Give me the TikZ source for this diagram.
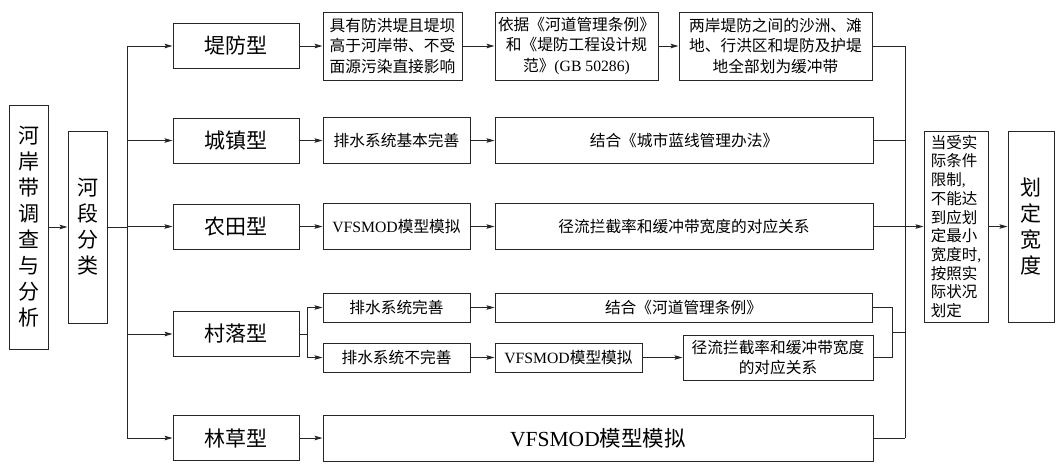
\documentclass[tikz,border=0pt]{standalone}
\usepackage{fontspec}
\setmainfont{Noto Sans CJK SC}
\newfontfamily\lat{Liberation Serif}
\usetikzlibrary{arrows.meta}
\begin{document}
\begin{tikzpicture}[x=1pt,y=-1pt,
  bx/.style={draw=black!85, line width=1pt, inner sep=0pt, align=center, font=\fontsize{15.7}{20.5}\selectfont},
  tp/.style={bx, minimum width=126pt, minimum height=45pt, font=\fontsize{21}{24}\selectfont},
  vt/.style={bx, minimum width=39pt, font=\fontsize{21}{26}\selectfont},
  arr/.style={line width=0.9pt, draw=black!85, -{Stealth[length=8pt,width=4.5pt,inset=1.5pt]}},
  ln/.style={line width=0.9pt, draw=black!85}]
\useasboundingbox (0,0) rectangle (1056,472);

% left column
\node[vt, minimum height=244pt] (A) at (28.5,227) {河\\岸\\带\\调\\查\\与\\分\\析};
\node[vt, minimum height=192pt] (B) at (87.5,227) {河\\段\\分\\类};

% type boxes
\node[tp] (T1) at (236,46) {堤防型};
\node[tp] (T2) at (236,140.5) {城镇型};
\node[tp] (T3) at (236,226.5) {农田型};
\node[tp] (T4) at (236,334) {村落型};
\node[tp] (T5) at (236,438) {林草型};

% row 1
\node[bx, minimum width=139pt, minimum height=68pt] (C1a) at (392.5,46) {具有防洪堤且堤坝\\高于河岸带、不受\\面源污染直接影响};
\node[bx, minimum width=163pt, minimum height=68pt] (C1b) at (576.5,46) {依据《河道管理条例》\\和《堤防工程设计规\\范》{\lat(GB 50286)}};
\node[bx, minimum width=193pt, minimum height=68pt] (C1c) at (775.5,46) {两岸堤防之间的沙洲、滩\\地、行洪区和堤防及护堤\\地全部划为缓冲带};

% row 2
\node[bx, minimum width=147pt, minimum height=46pt] (C2a) at (396.5,140.5) {排水系统基本完善};
\node[bx, minimum width=378pt, minimum height=46pt] (C2b) at (684,140.5) {结合《城市蓝线管理办法》};

% row 3
\node[bx, minimum width=147pt, minimum height=46pt] (C3a) at (396.5,226.5) {{\lat VFSMOD}模型模拟};
\node[bx, minimum width=378pt, minimum height=46pt] (C3b) at (684,226.5) {径流拦截率和缓冲带宽度的对应关系};

% row 4
\node[bx, minimum width=147pt, minimum height=29pt] (C4a) at (396.5,307.5) {排水系统完善};
\node[bx, minimum width=147pt, minimum height=29pt] (C4b) at (396.5,357.5) {排水系统不完善};
\node[bx, minimum width=377pt, minimum height=29pt] (C4c) at (683.5,307.5) {结合《河道管理条例》};
\node[bx, minimum width=147pt, minimum height=29pt] (C4d) at (568.5,357.5) {{\lat VFSMOD}模型模拟};
\node[bx, minimum width=190pt, minimum height=45pt] (C4e) at (778,357.5) {径流拦截率和缓冲带宽度\\的对应关系};

% row 5
\node[bx, minimum width=550pt, minimum height=46pt, font=\fontsize{21.5}{24}\selectfont] (C5) at (598,438) {{\lat VFSMOD}模型模拟};

% right column
\node[bx, minimum width=64pt, minimum height=191pt, align=left, font=\fontsize{15.5}{18.7}\selectfont] (R) at (956,226.5) {当受实\\际条件\\限制{\lat,}\\不能达\\到应划\\定最小\\宽度时{\lat,}\\按照实\\际状况\\划定};
\node[vt, minimum width=46pt, minimum height=191pt] (F) at (1031,226.5) {划\\定\\宽\\度};

% junction coordinates
\coordinate (j) at (127,0);
\coordinate (k) at (307,0);
\coordinate (n) at (892,0);
\coordinate (m) at (905,0);
\coordinate (nm) at (892,332);

% connectors
\draw[arr] (A.east |- B.west) -- (B.west);
\draw[ln] (B.east) -- (j |- B.east);
\draw[ln] (j |- T1.west) -- (j |- T5.west);
\foreach \t in {T1,T2,T3,T4,T5} \draw[arr] (j |- \t.west) -- (\t.west);

\draw[arr] (T1) -- (C1a);
\draw[arr] (C1a) -- (C1b);
\draw[arr] (C1b) -- (C1c);
\draw[arr] (T2) -- (C2a);
\draw[arr] (C2a) -- (C2b);
\draw[arr] (T3) -- (C3a);
\draw[arr] (C3a) -- (C3b);
\draw[arr] (T5) -- (C5);

\draw[ln] (T4.east) -- (k |- T4.east);
\draw[ln] (k |- C4a.west) -- (k |- C4b.west);
\draw[arr] (k |- C4a.west) -- (C4a.west);
\draw[arr] (k |- C4b.west) -- (C4b.west);
\draw[arr] (C4a) -- (C4c);
\draw[arr] (C4b) -- (C4d);
\draw[arr] (C4d) -- (C4e);
\draw[ln] (C4c.east) -- (n |- C4c.east) -- (n |- C4e.east) -- (C4e.east);
\draw[ln] (nm) -- (m |- nm);

\draw[ln] (C1c.east) -- (m |- C1c.east);
\draw[ln] (m |- C1c.east) -- (m |- C5.east);
\draw[ln] (C2b.east) -- (m |- C2b.east);
\draw[ln] (C5.east) -- (m |- C5.east);
\draw[arr] (C3b.east) -- (R.west);
\draw[arr] (R) -- (F);
\end{tikzpicture}
\end{document}
